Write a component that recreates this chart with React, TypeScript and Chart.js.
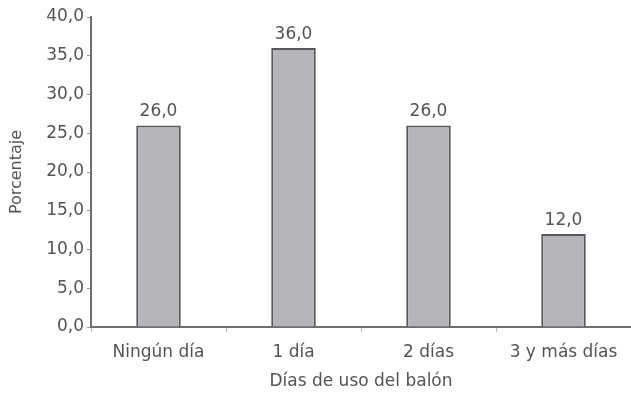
import React, { useEffect, useRef } from "react";
import { Chart, registerables } from "chart.js";

Chart.register(...registerables);

const categories = ["Ningún día", "1 día", "2 días", "3 y más días"];
const porcentajes = [26.0, 36.0, 26.0, 12.0];
const yTicks = [0, 5, 10, 15, 20, 25, 30, 35, 40];

const FONT = "'DejaVu Sans', sans-serif";
const TEXT = "#545457";
const AXIS = "#6e6e70";

const fmt = (v: number) => v.toFixed(1).replace(".", ",");

// Draws the value above each bar, e.g. "26,0"
const valueLabels = {
  id: "valueLabels",
  afterDatasetsDraw(chart: any) {
    const { ctx } = chart;
    const meta = chart.getDatasetMeta(0);
    ctx.save();
    ctx.font = `17px ${FONT}`;
    ctx.fillStyle = TEXT;
    ctx.textAlign = "center";
    ctx.textBaseline = "bottom";
    meta.data.forEach((bar: any, i: number) => {
      ctx.fillText(fmt(porcentajes[i]), bar.x, bar.y - 5);
    });
    ctx.restore();
  },
};

export default function App() {
  const ref = useRef<HTMLCanvasElement>(null);

  useEffect(() => {
    document.body.style.margin = "0";
    const chart = new Chart(ref.current!, {
      type: "bar",
      data: {
        labels: categories,
        datasets: [
          {
            data: porcentajes,
            backgroundColor: "#b4b5b9",
            borderColor: "#58585a",
            borderWidth: 2,
            barPercentage: 0.33,
            categoryPercentage: 1,
          },
        ],
      },
      options: {
        animation: false,
        responsive: false,
        maintainAspectRatio: false,
        layout: { padding: { top: 17, right: 0, left: 0, bottom: 0 } },
        plugins: {
          legend: { display: false },
          tooltip: { enabled: false },
        },
        scales: {
          x: {
            offset: true,
            grid: {
              offset: true,
              drawOnChartArea: false,
              drawTicks: true,
              tickLength: 5,
              color: "#bbbbbb",
            },
            border: { color: AXIS, width: 2 },
            ticks: {
              color: TEXT,
              font: { family: FONT, size: 17 },
              padding: 10,
              maxRotation: 0,
            },
            title: {
              display: true,
              text: "Días de uso del balón",
              color: TEXT,
              font: { family: FONT, size: 17 },
              padding: { top: 4, bottom: 8 },
            },
            afterFit(scale: any) {
              scale.height = 73;
            },
          },
          y: {
            min: 0,
            max: 40,
            afterBuildTicks(scale: any) {
              scale.ticks = yTicks.map((v) => ({ value: v }));
            },
            grid: {
              drawOnChartArea: false,
              drawTicks: true,
              tickLength: 4,
              color: "#999999",
            },
            border: { color: AXIS, width: 2 },
            ticks: {
              color: TEXT,
              font: { family: FONT, size: 17 },
              padding: 3,
              callback: (v: any) => fmt(Number(v)),
            },
            title: {
              display: true,
              text: "Porcentaje",
              color: TEXT,
              font: { family: FONT, size: 16 },
              padding: { top: 7, bottom: 2 },
            },
            afterFit(scale: any) {
              scale.width = 91;
            },
          },
        },
      },
      plugins: [valueLabels],
    });
    return () => chart.destroy();
  }, []);

  return (
    <div style={{ position: "absolute", left: 0, top: 0, width: 631, height: 400, background: "#fff" }}>
      <canvas ref={ref} width={631} height={400} />
    </div>
  );
}
